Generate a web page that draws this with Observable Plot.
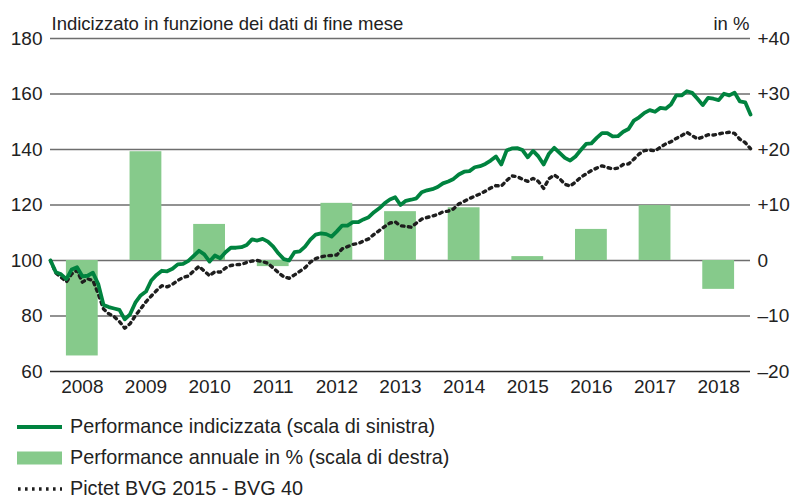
<!DOCTYPE html>
<html>
<head>
<meta charset="utf-8">
<script src="https://cdn.jsdelivr.net/npm/d3@7"></script>
<script src="https://cdn.jsdelivr.net/npm/@observablehq/plot@0.6"></script>
<style>
  html, body { margin: 0; padding: 0; background: #fff; }
  body { width: 792px; font-family: "Liberation Sans", Arial, sans-serif; }
  .row { display: flex; align-items: center; height: 31px; font-size: 19.8px; color: #222; line-height: 1; }
  .row svg { margin-left: 17px; margin-right: 8px; flex: none; }
</style>
</head>
<body>
<div id="chart"></div>
<div id="legend"></div>
<script>
// Years (categories) and annual performance in % (right scale)
const years = [2008, 2009, 2010, 2011, 2012, 2013, 2014, 2015, 2016, 2017, 2018];
const annualPct = [-17.2, 19.6, 6.5, -1.1, 10.3, 8.8, 9.5, 0.7, 5.6, 9.9, -5.2];

// Month-end indexed performance, Dec 2007 = 100 (left scale)
const indexed = [
  100, 95.8, 95.0, 93.3, 96.8, 97.6, 94.3, 94.5, 95.6, 91.5, 84.0, 83.2, 82.7,
  82.2, 78.8, 80.6, 84.8, 87.4, 88.8, 92.8, 94.8, 96.3, 96.1, 97.0, 98.6,
  98.8, 99.9, 101.7, 103.5, 102.2, 99.6, 101.8, 100.8, 103.0, 104.6, 104.6, 104.8,
  105.6, 107.6, 107.2, 107.8, 106.8, 105.0, 102.5, 100.5, 100.0, 103.0, 103.3, 105.0,
  107.5, 109.3, 109.8, 109.5, 108.6, 110.5, 112.6, 112.6, 113.8, 113.8, 114.8, 115.6,
  117.4, 118.8, 120.6, 122.0, 122.8, 120.0, 121.5, 121.9, 122.4, 124.6, 125.3, 125.7,
  126.5, 127.8, 128.5, 129.4, 131.0, 132.0, 132.2, 133.6, 134.0, 134.8, 136.0, 137.5,
  134.6, 139.6, 140.4, 140.5, 139.8, 137.2, 139.5, 137.5, 134.6, 138.5, 140.6, 138.8,
  137.0, 136.0, 137.5, 139.8, 142.0, 142.2, 144.2, 145.9, 145.9, 144.7, 144.8, 146.4,
  147.4, 150.4, 151.6, 153.2, 154.2, 153.6, 155.0, 154.7, 156.2, 159.5, 159.5, 161.0,
  160.4, 158.3, 156.0, 158.6, 158.3, 157.8, 160.1, 159.5, 160.5, 157.3, 157.0, 152.6
];

// Pictet BVG 2015 - BVG 40, same dates (left scale)
const pictet = [
  100, 95.5, 94.0, 92.3, 95.2, 96.4, 92.2, 93.4, 92.8, 88.0, 82.5, 80.8, 79.8,
  78.0, 75.6, 77.2, 80.1, 82.6, 85.1, 87.2, 89.2, 90.9, 90.5, 91.4, 92.8,
  93.9, 94.4, 96.2, 97.9, 96.2, 94.5, 96.0, 95.8, 97.3, 98.2, 98.5, 98.6,
  99.3, 99.8, 100.0, 99.6, 99.0, 97.3, 95.6, 94.1, 93.6, 94.8, 96.1, 97.4,
  99.4, 100.7, 101.3, 101.7, 101.8, 102.0, 104.2, 105.0, 105.8, 106.1, 107.0, 107.8,
  109.4, 110.8, 112.2, 113.5, 113.9, 112.5, 112.3, 112.0, 113.5, 114.9, 115.5, 116.0,
  116.6, 117.5, 117.8, 118.6, 120.4, 121.3, 122.3, 123.2, 124.0, 125.0, 126.1, 127.0,
  126.8, 128.8, 130.5, 130.2, 129.3, 128.5, 129.6, 128.5, 126.0, 129.5, 130.8, 129.5,
  127.5, 126.8, 128.3, 130.0, 131.2, 132.4, 133.3, 134.1, 133.5, 133.0, 133.3, 134.6,
  134.8, 136.5, 138.4, 139.6, 139.8, 139.5, 140.8, 142.0, 142.8, 144.0, 145.0, 146.2,
  145.0, 143.8, 144.5, 145.3, 145.2, 145.6, 146.0, 146.2, 145.8, 143.7, 142.5, 140.3
];

// Tick labels
const leftTicks = [60, 80, 100, 120, 140, 160, 180];
const rightTickLabels = ["–20", "–10", "0", "+10", "+20", "+30", "+40"];
const titleLeft = "Indicizzato in funzione dei dati di fine mese";
const titleRight = "in %";
const legendLabels = [
  "Performance indicizzata (scala di sinistra)",
  "Performance annuale in % (scala di destra)",
  "Pictet BVG 2015 - BVG 40"
];

const green = "#00833f";
const barGreen = "#86ca8b";
const gridColor = "#6e6e6e";
const dotColor = "#1e1e1e";
const dash = "2.6,4.4";

// Build tables
const lineData = indexed.map((v, i) => ({t: 2008 + i / 12, v}));
const pictetData = pictet.map((v, i) => ({t: 2008 + i / 12, v}));
// percent mapped onto the left scale: -20..+40 <-> 60..180
const pctToLeft = p => 100 + 2 * p;
const barData = years.map((y, i) => ({year: y, pct: annualPct[i]}));

const font = "'Liberation Sans', Arial, sans-serif";

const chart = Plot.plot({
  width: 792,
  height: 400,
  marginLeft: 50,
  marginRight: 42,
  marginTop: 38,
  marginBottom: 29,
  style: {fontFamily: font, fontSize: "18px", color: "#222", background: "#fff"},
  x: {domain: [2008, 2019], axis: null},
  y: {domain: [60, 180], axis: null},
  marks: [
    Plot.ruleY(leftTicks.slice(1), {stroke: gridColor, strokeWidth: 1.4}),
    Plot.rectY(barData, {
      x1: d => d.year + 0.25,
      x2: d => d.year + 0.75,
      y1: 100,
      y2: d => pctToLeft(d.pct),
      fill: barGreen
    }),
    Plot.ruleY([60], {stroke: "#2a2a2a", strokeWidth: 1.6}),
    Plot.axisY({anchor: "left", label: null, ticks: leftTicks, tickSize: 0, tickPadding: 8, fontSize: 19, fill: "#222"}),
    Plot.axisY({
      anchor: "right", label: null, ticks: leftTicks, tickSize: 0, tickPadding: 7, fontSize: 19, fill: "#222",
      tickFormat: d => rightTickLabels[leftTicks.indexOf(d)]
    }),
    Plot.axisX({
      label: null,
      ticks: years.map(y => y + 0.5),
      tickFormat: d => String(Math.floor(d)),
      tickSize: 0, tickPadding: 8, fontSize: 19, fill: "#222"
    }),
    Plot.line(pictetData, {x: "t", y: "v", stroke: dotColor, strokeWidth: 3.4, strokeDasharray: dash}),
    Plot.line(lineData, {x: "t", y: "v", stroke: green, strokeWidth: 3.8, strokeLinejoin: "round"}),
    Plot.text([titleLeft], {x: 2008, y: 180, text: d => d, textAnchor: "start", dy: -14, dx: 1, fontSize: 18.5, fill: "#222"}),
    Plot.text([titleRight], {x: 2019, y: 180, text: d => d, textAnchor: "end", dy: -14, dx: -1, fontSize: 18.5, fill: "#222"})
  ]
});
document.getElementById("chart").appendChild(chart);

// Legend
const legend = document.getElementById("legend");
legend.style.marginTop = "11px";
const swatches = [
  `<svg width="45" height="14"><line x1="0" x2="45" y1="7" y2="7" stroke="${green}" stroke-width="3.8"/></svg>`,
  `<svg width="45" height="14"><rect x="0" y="0.5" width="45" height="13" fill="${barGreen}"/></svg>`,
  `<svg width="45" height="14"><line x1="1" x2="45" y1="7" y2="7" stroke="${dotColor}" stroke-width="3.4" stroke-dasharray="${dash}"/></svg>`
];
legendLabels.forEach((lab, i) => {
  const row = document.createElement("div");
  row.className = "row";
  row.innerHTML = swatches[i] + `<span>${lab}</span>`;
  legend.appendChild(row);
});
</script>
</body>
</html>
